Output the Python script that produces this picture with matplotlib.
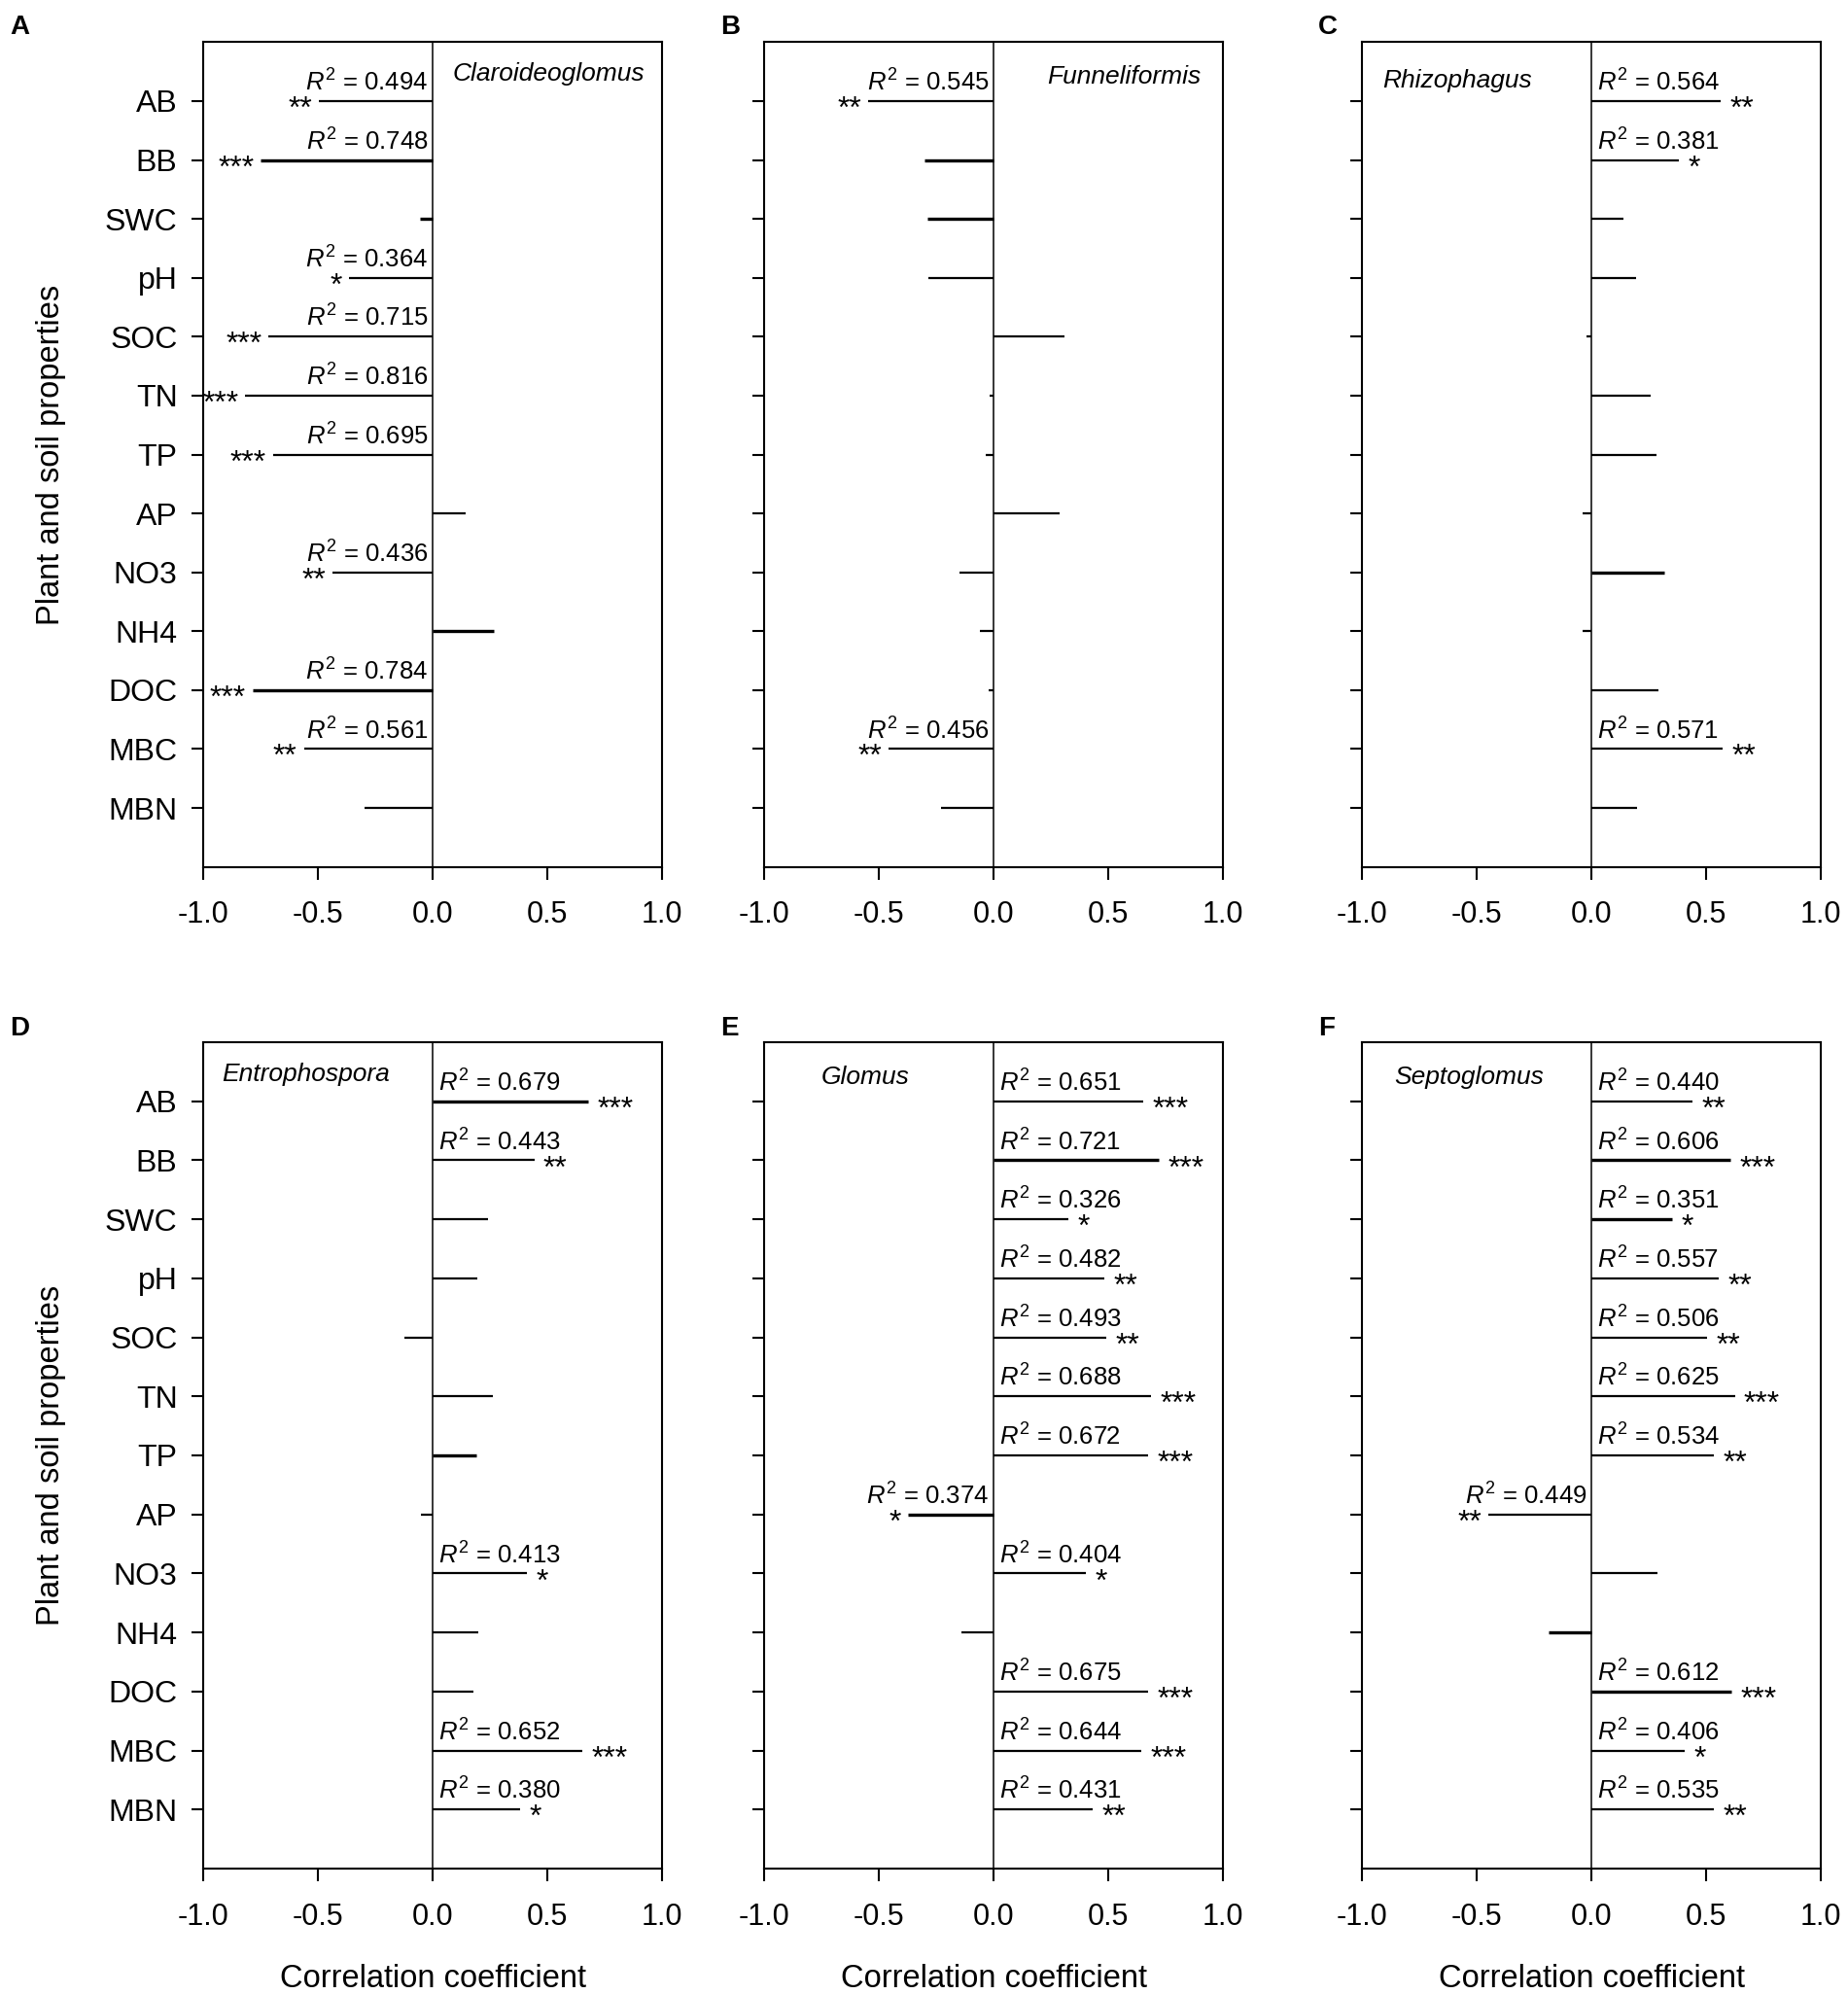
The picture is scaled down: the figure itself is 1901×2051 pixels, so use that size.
import matplotlib
matplotlib.use('Agg')
import matplotlib.pyplot as plt

plt.rcParams['font.family'] = ['Liberation Sans', 'DejaVu Sans']
plt.rcParams['mathtext.fontset'] = 'custom'
plt.rcParams['mathtext.rm'] = 'Liberation Sans'
plt.rcParams['mathtext.it'] = 'Liberation Sans:italic'
plt.rcParams['axes.unicode_minus'] = False

# ---------------- data ----------------
categories = ['AB', 'BB', 'SWC', 'pH', 'SOC', 'TN', 'TP', 'AP', 'NO3', 'NH4', 'DOC', 'MBC', 'MBN']
genera = ['Claroideoglomus', 'Funneliformis', 'Rhizophagus', 'Entrophospora', 'Glomus', 'Septoglomus']
panel_letters = ['A', 'B', 'C', 'D', 'E', 'F']
x_ticks = [-1.0, -0.5, 0.0, 0.5, 1.0]
x_label = 'Correlation coefficient'
y_label = 'Plant and soil properties'

corr_claroideoglomus = [-0.494, -0.748, -0.055, -0.364, -0.715, -0.816, -0.695, 0.145, -0.436, 0.265, -0.784, -0.561, -0.298]
corr_funneliformis = [-0.545, -0.300, -0.290, -0.285, 0.310, -0.015, -0.035, 0.290, -0.150, -0.060, -0.020, -0.456, -0.227]
corr_rhizophagus = [0.564, 0.381, 0.138, 0.197, -0.020, 0.257, 0.284, -0.040, 0.318, -0.039, 0.291, 0.571, 0.200]
corr_entrophospora = [0.679, 0.443, 0.242, 0.197, -0.123, 0.263, 0.189, -0.051, 0.413, 0.200, 0.178, 0.652, 0.380]
corr_glomus = [0.651, 0.721, 0.326, 0.482, 0.493, 0.688, 0.672, -0.374, 0.404, -0.140, 0.675, 0.644, 0.431]
corr_septoglomus = [0.440, 0.606, 0.351, 0.557, 0.506, 0.625, 0.534, -0.449, 0.290, -0.187, 0.612, 0.406, 0.535]

r2_claroideoglomus = ['0.494', '0.748', '', '0.364', '0.715', '0.816', '0.695', '', '0.436', '', '0.784', '0.561', '']
r2_funneliformis = ['0.545', '', '', '', '', '', '', '', '', '', '', '0.456', '']
r2_rhizophagus = ['0.564', '0.381', '', '', '', '', '', '', '', '', '', '0.571', '']
r2_entrophospora = ['0.679', '0.443', '', '', '', '', '', '', '0.413', '', '', '0.652', '0.380']
r2_glomus = ['0.651', '0.721', '0.326', '0.482', '0.493', '0.688', '0.672', '0.374', '0.404', '', '0.675', '0.644', '0.431']
r2_septoglomus = ['0.440', '0.606', '0.351', '0.557', '0.506', '0.625', '0.534', '0.449', '', '', '0.612', '0.406', '0.535']

sig_claroideoglomus = ['**', '***', '', '*', '***', '***', '***', '', '**', '', '***', '**', '']
sig_funneliformis = ['**', '', '', '', '', '', '', '', '', '', '', '**', '']
sig_rhizophagus = ['**', '*', '', '', '', '', '', '', '', '', '', '**', '']
sig_entrophospora = ['***', '**', '', '', '', '', '', '', '*', '', '', '***', '*']
sig_glomus = ['***', '***', '*', '**', '**', '***', '***', '*', '*', '', '***', '***', '**']
sig_septoglomus = ['**', '***', '*', '**', '**', '***', '**', '**', '', '', '***', '*', '**']

corr_all = [corr_claroideoglomus, corr_funneliformis, corr_rhizophagus,
            corr_entrophospora, corr_glomus, corr_septoglomus]
r2_all = [r2_claroideoglomus, r2_funneliformis, r2_rhizophagus,
          r2_entrophospora, r2_glomus, r2_septoglomus]
sig_all = [sig_claroideoglomus, sig_funneliformis, sig_rhizophagus,
           sig_entrophospora, sig_glomus, sig_septoglomus]

# ---------------- styles / layout ----------------
W, H = 1901, 2051
fig = plt.figure(figsize=(W / 100, H / 100), dpi=100)

col_left = [209, 786, 1401]
ax_w = 472
row_top = [43.4, 1072]
row_bot = [891.6, 1922]

# genus-name anchor (data coords, left-aligned) per panel
title_pos = [(0.085, -0.46), (0.235, -0.41), (-0.91, -0.35),
             (-0.92, -0.46), (-0.75, -0.40), (-0.86, -0.41)]
# bars drawn slightly heavier in the original
thick = [{1, 2, 9, 10}, {1, 2}, {8}, {0, 6}, {1, 7}, {1, 2, 9, 10}]

letter_pos = [(10, 15), (741, 15), (1356, 15), (10, 1045), (741, 1045), (1356, 1045)]

for k in range(6):
    r, c = divmod(k, 3)
    left = col_left[c] / W
    bottom = 1 - row_bot[r] / H
    height = (row_bot[r] - row_top[r]) / H
    ax = fig.add_axes([left, bottom, ax_w / W, height])

    vals = corr_all[k]
    for i, v in enumerate(vals):
        lw = 2.4 if i in thick[k] else 1.6
        ax.hlines(i, 0, v, color='black', lw=lw, capstyle='butt')
        lab = r2_all[k][i]
        if lab:
            txt = r'$\mathit{R}^{\mathrm{2}}$ = ' + lab
            if v < 0:
                ax.text(-0.02, i - 0.17, txt, ha='right', va='baseline', fontsize=18.5)
            else:
                ax.text(0.025, i - 0.17, txt, ha='left', va='baseline', fontsize=18.5)
        s = sig_all[k][i]
        if s:
            if v < 0:
                ax.text(v - 0.03, i + 0.28, s, ha='right', va='baseline', fontsize=23)
            else:
                ax.text(v + 0.04, i + 0.28, s, ha='left', va='baseline', fontsize=23)

    ax.axvline(0, color='black', lw=1.1)
    ax.set_xlim(-1, 1)
    ax.set_ylim(len(categories), -1)
    ax.set_xticks(x_ticks)
    ax.set_xticklabels(['%.1f' % t for t in x_ticks])
    ax.set_yticks(range(len(categories)))
    if c == 0:
        ax.set_yticklabels(categories)
    else:
        ax.set_yticklabels([])
    ax.tick_params(axis='y', direction='out', length=9, width=1.5, labelsize=23, pad=10)
    ax.tick_params(axis='x', direction='out', length=9, width=1.5, labelsize=22, pad=16)
    for sp in ax.spines.values():
        sp.set_linewidth(1.5)

    tx, ty = title_pos[k]
    ax.text(tx, ty, genera[k], style='italic', fontsize=19, ha='left', va='center')

    lx, ly = letter_pos[k]
    fig.text(lx / W, 1 - ly / H, panel_letters[k], fontsize=20, fontweight='bold',
             ha='left', va='top')

    if r == 1:
        cx = (col_left[c] + ax_w / 2) / W
        fig.text(cx, 1 - 2036 / H, x_label, fontsize=23.5, ha='center', va='center')

for r in range(2):
    cy = 1 - (row_top[r] + row_bot[r]) / 2 / H
    fig.text(52 / W, cy, y_label, fontsize=23.5, rotation=90, ha='center', va='center')

fig.savefig('out.png', dpi=100)
